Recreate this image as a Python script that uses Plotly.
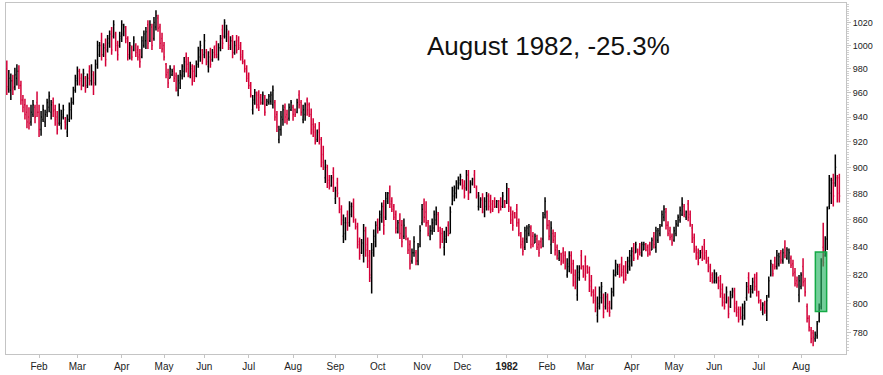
import math
import pandas as pd
import plotly.graph_objects as go

# ---- daily OHLC values (Dow Jones Industrials, Jan 1981 - Aug 1982) ----
opens = [
    980, 963, 962, 970, 965, 972, 978, 966, 954, 950,
    944, 940, 936, 942, 948, 952, 944, 930, 938, 936,
    944, 948, 944, 952, 946, 940, 935, 935, 940, 936,
    928, 938, 946, 952, 962, 970, 978, 972, 966, 972,
    966, 978, 970, 975, 968, 984, 992, 1004, 992, 1000,
    996, 1002, 1012, 1008, 1010, 1002, 1000, 1006, 1010, 1012,
    1006, 990, 998, 996, 1000, 996, 992, 990, 1000, 1004,
    1018, 1004, 1016, 1006, 1016, 1024, 1016, 1006, 1000, 984,
    977, 972, 975, 980, 974, 962, 968, 974, 978, 990,
    984, 974, 980, 978, 974, 984, 990, 996, 992, 994,
    982, 994, 988, 998, 1000, 990, 998, 1014, 1008, 1008,
    1010, 998, 1004, 994, 1004, 1004, 1000, 992, 986, 980,
    974, 966, 946, 952, 958, 958, 956, 951, 956, 950,
    952, 953, 950, 952, 942, 922, 930, 938, 948, 942,
    939, 946, 948, 946, 944, 958, 952, 938, 942, 954,
    950, 942, 934, 932, 922, 930, 922, 910, 892, 900,
    890, 886, 896, 876, 888, 876, 868, 848, 850, 864,
    858, 864, 872, 860, 855, 844, 836, 834, 852, 842,
    834, 818, 836, 844, 860, 854, 862, 870, 862, 874,
    882, 874, 870, 864, 851, 860, 856, 848, 854, 846,
    842, 830, 836, 836, 830, 842, 858, 872, 866, 858,
    848, 852, 854, 860, 864, 852, 850, 840, 846, 856,
    850, 872, 878, 880, 884, 888, 890, 886, 884, 894,
    881, 887, 894, 884, 870, 870, 876, 866, 870, 878,
    874, 872, 874, 870, 872, 874, 870, 874, 874, 882,
    868, 864, 865, 868, 858, 848, 844, 840, 846, 850,
    854, 848, 843, 846, 842, 844, 846, 864, 866, 856,
    842, 850, 848, 840, 832, 835, 836, 834, 820, 826,
    834, 828, 820, 806, 818, 834, 826, 830, 826, 822,
    816, 808, 806, 792, 798, 804, 804, 798, 804, 800,
    797, 808, 820, 822, 826, 828, 824, 826, 822, 826,
    830, 840, 836, 838, 840, 834, 838, 842, 840, 842,
    838, 848, 840, 845, 850, 856, 862, 866, 856, 852,
    848, 845, 850, 856, 860, 864, 870, 862, 872, 864,
    854, 847, 838, 836, 832, 838, 842, 836, 830, 826,
    820, 815, 816, 818, 816, 810, 804, 801, 802, 798,
    804, 808, 800, 796, 796, 790, 792, 804, 818, 805,
    808, 818, 818, 808, 802, 794, 800, 792, 806, 820,
    826, 830, 826, 828, 836, 830, 840, 832, 830, 832,
    828, 822, 816, 806, 812, 826, 816, 798, 790, 782,
    780, 776, 778, 788, 798, 840, 834, 846, 870, 880,
    890, 888, 892, 892,
]
highs = [
    987, 979, 976, 975, 981, 984, 983, 970, 958, 955,
    950, 948, 950, 954, 950, 961, 950, 945, 950, 946,
    955, 961, 954, 956, 950, 945, 951, 946, 950, 940,
    942, 952, 956, 965, 975, 982, 980, 976, 980, 974,
    976, 983, 984, 978, 988, 1004, 1003, 1011, 1002, 1006,
    1009, 1013, 1016, 1022, 1012, 1004, 1012, 1022, 1019, 1017,
    1008, 1003, 1000, 1008, 1002, 1000, 997, 1008, 1013, 1016,
    1022, 1022, 1019, 1025, 1031, 1027, 1019, 1011, 1003, 985,
    980, 983, 980, 983, 977, 975, 979, 984, 990, 994,
    990, 986, 984, 983, 987, 999, 1004, 997, 1010, 997,
    995, 998, 997, 1000, 1004, 1002, 1009, 1018, 1023, 1018,
    1013, 1008, 1009, 1004, 1009, 1008, 1003, 996, 988, 983,
    977, 969, 958, 963, 961, 962, 959, 961, 958, 955,
    959, 961, 966, 954, 945, 933, 945, 950, 951, 946,
    951, 954, 950, 947, 955, 962, 954, 950, 952, 956,
    952, 947, 939, 935, 930, 936, 924, 917, 906, 902,
    894, 894, 900, 885, 892, 877, 871, 864, 862, 867,
    874, 873, 876, 861, 858, 847, 846, 857, 855, 847,
    838, 843, 853, 859, 861, 867, 873, 875, 881, 881,
    886, 877, 872, 867, 860, 865, 860, 861, 855, 847,
    845, 839, 848, 838, 843, 856, 872, 876, 874, 860,
    856, 861, 867, 870, 866, 855, 854, 852, 855, 859,
    870, 885, 886, 890, 893, 895, 891, 890, 898, 898,
    890, 892, 898, 886, 881, 877, 880, 877, 881, 880,
    879, 875, 877, 875, 875, 877, 881, 875, 888, 884,
    870, 867, 866, 872, 861, 851, 847, 855, 856, 857,
    856, 851, 850, 849, 845, 847, 866, 877, 867, 860,
    859, 853, 851, 842, 838, 836, 840, 837, 832, 837,
    837, 831, 824, 827, 827, 838, 827, 834, 827, 826,
    820, 810, 812, 805, 812, 815, 807, 808, 807, 802,
    811, 824, 831, 828, 828, 833, 827, 830, 833, 838,
    840, 843, 844, 839, 843, 844, 844, 843, 842, 844,
    847, 851, 855, 854, 857, 867, 871, 869, 859, 855,
    850, 855, 860, 864, 870, 877, 872, 867, 875, 867,
    857, 850, 841, 839, 838, 841, 846, 838, 833, 828,
    822, 824, 822, 819, 820, 814, 807, 812, 805, 809,
    811, 811, 802, 798, 798, 800, 802, 815, 822, 813,
    818, 821, 822, 809, 803, 801, 802, 806, 819, 831,
    828, 833, 838, 836, 838, 839, 845, 840, 839, 834,
    831, 825, 819, 820, 822, 832, 818, 800, 792, 784,
    782, 781, 788, 800, 832, 858, 848, 870, 894, 892,
    895, 910, 894, 895,
]
lows = [
    958, 960, 954, 958, 962, 966, 963, 950, 944, 938,
    931, 930, 933, 940, 935, 940, 924, 925, 936, 932,
    940, 944, 938, 940, 933, 926, 933, 930, 938, 930,
    924, 936, 938, 950, 960, 966, 966, 962, 965, 960,
    964, 966, 966, 958, 966, 980, 990, 987, 990, 982,
    994, 998, 992, 1006, 995, 987, 998, 1003, 1008, 1002,
    987, 988, 987, 995, 990, 987, 981, 989, 998, 997,
    997, 1003, 996, 1004, 1013, 1012, 997, 994, 987, 972,
    964, 972, 974, 969, 961, 957, 963, 971, 973, 977,
    973, 972, 966, 969, 973, 981, 986, 984, 989, 983,
    977, 981, 986, 989, 989, 987, 995, 997, 1006, 1003,
    996, 996, 989, 992, 993, 996, 987, 984, 977, 969,
    963, 956, 942, 950, 947, 945, 950, 950, 941, 949,
    950, 950, 947, 937, 928, 919, 925, 933, 935, 934,
    937, 945, 937, 940, 943, 947, 941, 935, 937, 941,
    940, 926, 924, 918, 920, 918, 900, 898, 888, 884,
    883, 885, 881, 872, 877, 865, 856, 843, 845, 852,
    855, 862, 858, 853, 839, 831, 835, 829, 833, 825,
    815, 807, 833, 840, 850, 852, 858, 849, 860, 872,
    869, 866, 860, 850, 850, 846, 840, 846, 845, 835,
    824, 828, 833, 827, 827, 840, 856, 858, 855, 848,
    845, 849, 851, 856, 851, 839, 843, 834, 843, 848,
    850, 871, 874, 876, 883, 886, 883, 876, 882, 875,
    880, 886, 884, 876, 867, 869, 865, 862, 867, 867,
    865, 866, 869, 869, 865, 867, 869, 869, 872, 866,
    857, 852, 861, 855, 848, 839, 834, 838, 843, 848,
    839, 840, 843, 838, 833, 839, 840, 861, 853, 845,
    835, 843, 834, 831, 830, 827, 828, 824, 818, 822,
    821, 812, 810, 802, 816, 824, 818, 816, 821, 808,
    805, 800, 794, 787, 796, 800, 790, 796, 794, 791,
    796, 805, 819, 820, 818, 819, 814, 816, 821, 823,
    826, 830, 836, 831, 834, 833, 838, 837, 833, 834,
    838, 839, 836, 843, 848, 855, 859, 853, 848, 845,
    841, 844, 848, 855, 858, 863, 862, 860, 859, 855,
    843, 836, 831, 827, 832, 830, 831, 828, 822, 815,
    814, 814, 814, 810, 804, 798, 796, 800, 790, 797,
    804, 794, 791, 787, 789, 785, 789, 802, 807, 804,
    807, 809, 805, 800, 795, 792, 793, 788, 804, 819,
    819, 824, 824, 826, 828, 828, 832, 831, 828, 825,
    819, 812, 811, 801, 810, 812, 805, 787, 781, 773,
    771, 774, 776, 787, 796, 826, 833, 838, 868, 872,
    870, 885, 873, 873,
]
closes = [
    965, 972, 970, 964, 975, 978, 966, 954, 948, 942,
    936, 935, 944, 950, 940, 944, 930, 940, 946, 942,
    952, 957, 950, 945, 938, 930, 946, 942, 946, 934,
    938, 948, 952, 962, 972, 978, 970, 966, 976, 964,
    972, 970, 978, 966, 984, 1000, 1000, 992, 998, 988,
    1006, 1010, 996, 1018, 1000, 992, 1008, 1018, 1016, 1006,
    992, 1000, 990, 1004, 994, 990, 986, 1004, 1010, 1012,
    1002, 1018, 1000, 1020, 1026, 1015, 1002, 997, 990, 975,
    968, 980, 978, 972, 964, 970, 975, 982, 986, 980,
    976, 982, 970, 972, 984, 996, 1000, 988, 1004, 986,
    990, 984, 994, 992, 992, 998, 1006, 1002, 1020, 1014,
    1000, 1004, 994, 1000, 996, 998, 990, 986, 980, 972,
    966, 958, 954, 960, 950, 948, 952, 958, 944, 953,
    957, 958, 962, 940, 932, 930, 940, 946, 940, 938,
    948, 952, 942, 942, 952, 950, 944, 946, 950, 946,
    942, 930, 928, 920, 928, 922, 904, 900, 902, 888,
    885, 892, 884, 882, 880, 868, 860, 858, 858, 856,
    870, 870, 862, 855, 842, 834, 843, 852, 838, 830,
    820, 838, 848, 856, 852, 864, 870, 856, 876, 880,
    872, 868, 862, 854, 858, 850, 844, 856, 848, 838,
    828, 836, 844, 830, 840, 852, 868, 862, 858, 850,
    852, 858, 864, 866, 854, 842, 846, 848, 852, 850,
    866, 882, 884, 888, 890, 893, 885, 878, 894, 880,
    888, 891, 886, 878, 878, 875, 868, 874, 878, 870,
    868, 868, 870, 874, 867, 870, 878, 870, 884, 870,
    860, 856, 862, 858, 850, 842, 837, 852, 854, 855,
    842, 842, 848, 840, 836, 840, 862, 874, 856, 848,
    854, 845, 838, 834, 836, 830, 830, 826, 828, 834,
    824, 815, 812, 822, 825, 826, 820, 819, 822, 812,
    808, 802, 797, 800, 808, 812, 794, 805, 797, 794,
    808, 820, 828, 826, 820, 822, 817, 820, 830, 834,
    837, 832, 842, 833, 836, 842, 842, 838, 835, 836,
    845, 842, 852, 852, 855, 864, 868, 856, 850, 847,
    843, 852, 857, 862, 867, 872, 864, 866, 862, 857,
    846, 839, 833, 829, 836, 832, 834, 830, 825, 818,
    816, 821, 820, 812, 807, 801, 798, 808, 793, 806,
    809, 797, 794, 789, 791, 797, 800, 812, 810, 810,
    815, 812, 808, 802, 797, 799, 795, 802, 816, 828,
    821, 826, 834, 833, 831, 836, 834, 838, 836, 827,
    821, 814, 813, 816, 820, 815, 808, 790, 784, 776,
    777, 779, 786, 797, 830, 829, 846, 868, 890, 888,
    878, 900, 880, 878,
]

# trading calendar (NYSE holidays excluded)
start_date = "1981-01-09"
end_date = "1982-08-27"
holidays = ["1981-02-16", "1981-04-17", "1981-05-25", "1981-07-03", "1981-09-07",
            "1981-11-26", "1981-12-25", "1982-01-01", "1982-02-15", "1982-04-09",
            "1982-05-31", "1982-07-05"]
month_names = ["Jan", "Feb", "Mar", "Apr", "May", "Jun", "Jul", "Aug", "Sep", "Oct", "Nov", "Dec"]
price_ticks = [780, 800, 820, 840, 860, 880, 900, 920, 940, 960, 980, 1000, 1020]
title_text = "August 1982, -25.3%"
# highlighted bars (Aug 1982 breakout): index span and price span
hl_x = (401.1, 406.7)
hl_y = (794.5, 836.5)

dates = [d for d in pd.bdate_range(start_date, end_date) if d.strftime("%Y-%m-%d") not in holidays]
n = min(len(dates), len(closes))
xs = list(range(n))

tickvals, ticktext = [], []
for i in range(1, n):
    if dates[i].month != dates[i - 1].month:
        tickvals.append(i)
        if dates[i].month == 1:
            ticktext.append("<b>%d</b>" % dates[i].year)
        else:
            ticktext.append(month_names[dates[i].month - 1])

RED = "rgb(212,0,56)"
fig = go.Figure()
fig.add_trace(go.Ohlc(
    x=xs, open=opens[:n], high=highs[:n], low=lows[:n], close=closes[:n],
    increasing=dict(line=dict(color="#000000", width=1.5)),
    decreasing=dict(line=dict(color=RED, width=1.5)),
    tickwidth=0.45, hoverinfo="skip", showlegend=False,
))

fig.add_shape(type="rect", xref="x", yref="y",
              x0=hl_x[0], x1=hl_x[1], y0=hl_y[0], y1=hl_y[1],
              fillcolor="rgba(40,180,100,0.65)",
              line=dict(color="rgb(20,170,70)", width=1.5), layer="above")

fig.add_annotation(text=title_text, xref="paper", yref="paper",
                   x=0.646, y=0.878, xanchor="center", yanchor="middle",
                   showarrow=False,
                   font=dict(family="Liberation Sans, Arial, sans-serif", size=26, color="#111111"))

axis_grey = "#c4c4c4"
fig.update_layout(
    width=883, height=375,
    margin=dict(l=6, r=37, t=3, b=21),
    paper_bgcolor="white", plot_bgcolor="white",
    showlegend=False,
)
fig.update_xaxes(
    range=[-0.4, 416.3], tickmode="array", tickvals=tickvals, ticktext=ticktext,
    showgrid=False, zeroline=False, showline=True, linecolor=axis_grey, linewidth=1,
    mirror=True, ticks="outside", ticklen=3, tickcolor=axis_grey,
    tickfont=dict(family="Liberation Sans, Arial, sans-serif", size=10, color="#222222"),
    rangeslider=dict(visible=False), fixedrange=True,
)
fig.update_yaxes(
    type="log", range=[math.log10(765.9), math.log10(1037.4)], side="right",
    tickmode="array", tickvals=price_ticks, ticktext=[str(v) for v in price_ticks],
    showgrid=False, zeroline=False, showline=True, linecolor=axis_grey, linewidth=1,
    mirror=True, ticks="outside", ticklen=4, tickcolor=axis_grey,
    minor=dict(tickmode="array", tickvals=list(range(768, 1038, 2)), ticks="outside",
               ticklen=2, tickcolor="#d0d0d0"),
    tickfont=dict(family="Liberation Sans, Arial, sans-serif", size=9, color="#222222"),
    fixedrange=True,
)

fig.write_html("out.html", config={"displayModeBar": False},
               post_script="document.body.style.margin='0px';document.body.style.padding='0px';")
